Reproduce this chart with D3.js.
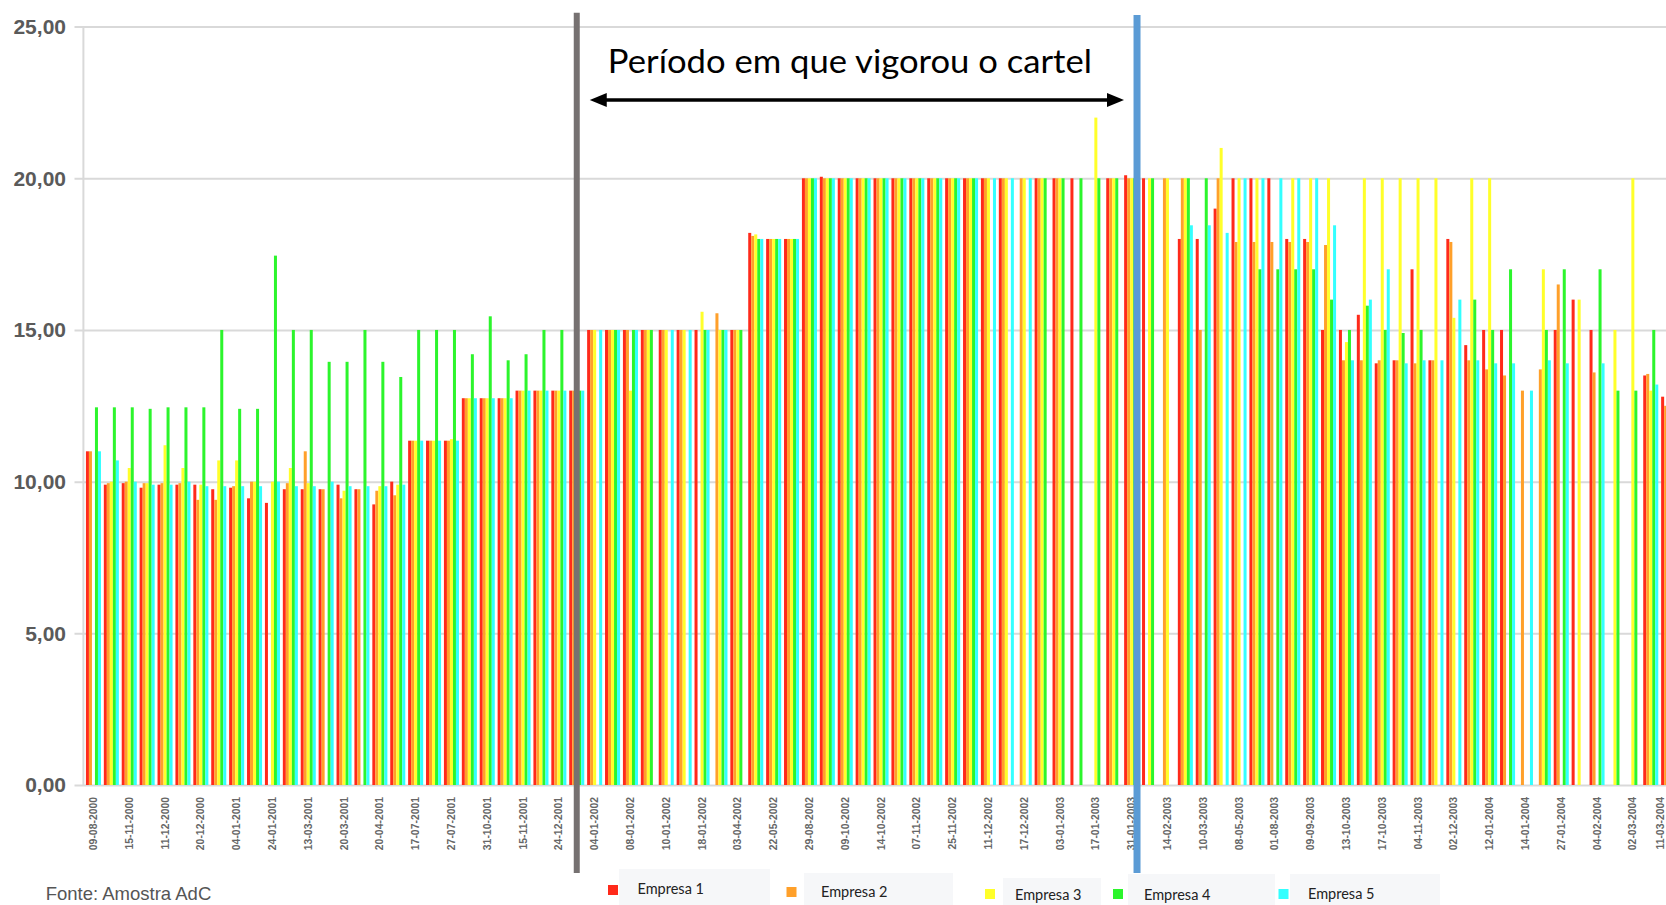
<!DOCTYPE html>
<html>
<head>
<meta charset="utf-8">
<script src="https://cdnjs.cloudflare.com/ajax/libs/d3/7.8.5/d3.min.js"></script>
<style>
  html, body { margin: 0; padding: 0; background: #fff; overflow: hidden; }
  svg { display: block; }
</style>
</head>
<body>
<svg width="1666" height="905"></svg>
<script>
// tick labels (one every second group)
const tickLabels = [
  '09-08-2000', '15-11-2000', '11-12-2000', '20-12-2000', '04-01-2001', '24-01-2001',
  '13-03-2001', '20-03-2001', '20-04-2001', '17-07-2001', '27-07-2001', '31-10-2001',
  '15-11-2001', '24-12-2001', '04-01-2002', '08-01-2002', '10-01-2002', '18-01-2002',
  '03-04-2002', '22-05-2002', '29-08-2002', '09-10-2002', '14-10-2002', '07-11-2002',
  '25-11-2002', '11-12-2002', '17-12-2002', '03-01-2003', '17-01-2003', '31-01-2003',
  '14-02-2003', '10-03-2003', '08-05-2003', '01-08-2003', '09-09-2003', '13-10-2003',
  '17-10-2003', '04-11-2003', '02-12-2003', '12-01-2004', '14-01-2004', '27-01-2004',
  '04-02-2004', '02-03-2004', '11-03-2004'
];

const seriesNames = ['Empresa 1', 'Empresa 2', 'Empresa 3', 'Empresa 4', 'Empresa 5'];
const seriesColors = ['#ff2a1a', '#ffa02a', '#ffff2a', '#2cf52c', '#33ffff'];

// price per group (0 = no observation)
const empresa1 = [
  11.0, 9.9, 9.95, 9.8, 9.9, 9.9, 9.9, 9.75, 9.8, 9.45,
  9.3, 9.75, 9.75, 9.75, 9.9, 9.75, 9.25, 10.0, 11.35, 11.35,
  11.35, 12.75, 12.75, 12.75, 13.0, 13.0, 13.0, 13.0, 15.0, 15.0,
  15.0, 15.0, 15.0, 15.0, 15.0, 0, 15.0, 18.2, 18.0, 18.0,
  20.0, 20.05, 20.0, 20.0, 20.0, 20.0, 20.0, 20.0, 20.0, 20.0,
  20.0, 20.0, 0, 20.0, 20.0, 20.0, 0, 20.0, 20.1, 20.0,
  0, 18.0, 18.0, 19.0, 20.0, 20.0, 20.0, 18.0, 18.0, 15.0,
  15.0, 15.5, 13.9, 14.0, 17.0, 14.0, 18.0, 14.5, 15.0, 15.0,
  0, 0, 15.0, 16.0, 15.0, 0, 0, 13.5, 12.8, 13.0
];
const empresa2 = [
  11.0, 9.95, 10.0, 9.95, 9.95, 9.95, 9.4, 9.4, 9.85, 10.0,
  0, 9.95, 11.0, 9.75, 9.45, 9.75, 9.7, 9.55, 11.35, 11.35,
  11.35, 12.75, 12.75, 12.75, 13.0, 13.0, 13.0, 13.0, 15.0, 15.0,
  15.0, 15.0, 15.0, 15.0, 0, 15.55, 15.0, 18.1, 18.0, 18.0,
  20.0, 20.0, 20.0, 20.0, 20.0, 20.0, 20.0, 20.0, 20.0, 20.0,
  20.0, 20.0, 20.0, 20.0, 20.0, 0, 0, 20.0, 20.0, 0,
  20.0, 20.0, 15.0, 20.0, 17.9, 17.9, 17.9, 17.9, 17.9, 17.8,
  14.0, 14.0, 14.0, 14.0, 13.9, 14.0, 17.9, 14.0, 13.7, 13.5,
  13.0, 13.7, 16.5, 0, 13.6, 0, 0, 13.55, 12.5, 13.0
];
const empresa3 = [
  0, 10.0, 10.45, 9.95, 11.2, 10.45, 9.9, 10.7, 10.7, 10.0,
  10.0, 10.45, 9.95, 0, 9.7, 0, 9.85, 9.9, 11.35, 11.35,
  11.4, 12.75, 12.75, 12.75, 13.0, 13.0, 13.0, 13.0, 15.0, 15.0,
  13.0, 15.0, 15.0, 15.0, 15.6, 15.0, 15.0, 18.15, 18.0, 18.0,
  20.0, 20.0, 20.0, 20.0, 20.0, 20.0, 20.0, 20.0, 20.0, 20.0,
  20.0, 20.0, 20.0, 20.0, 20.0, 0, 22.0, 20.0, 20.0, 20.0,
  20.0, 20.0, 0, 21.0, 20.0, 20.0, 0, 20.0, 20.0, 20.0,
  14.6, 20.0, 20.0, 20.0, 20.0, 20.0, 15.4, 20.0, 20.0, 0,
  0, 17.0, 0, 16.0, 0, 15.0, 20.0, 13.0, 13.0, 13.0
];
const empresa4 = [
  12.45, 12.45, 12.45, 12.4, 12.45, 12.45, 12.45, 15.0, 12.4, 12.4,
  17.45, 15.0, 15.0, 13.95, 13.95, 15.0, 13.95, 13.45, 15.0, 15.0,
  15.0, 14.2, 15.45, 14.0, 14.2, 15.0, 15.0, 13.0, 0, 15.0,
  15.0, 15.0, 0, 0, 15.0, 15.0, 15.0, 18.0, 18.0, 18.0,
  20.0, 20.0, 20.0, 20.0, 20.0, 20.0, 20.0, 20.0, 20.0, 20.0,
  0, 0, 0, 20.0, 20.0, 20.0, 20.0, 20.0, 20.0, 20.0,
  0, 20.0, 20.0, 0, 0, 17.0, 17.0, 17.0, 17.0, 16.0,
  15.0, 15.8, 15.0, 14.9, 15.0, 0, 0, 16.0, 15.0, 17.0,
  0, 15.0, 17.0, 0, 17.0, 13.0, 13.0, 15.0, 13.0, 13.0
];
const empresa5 = [
  11.0, 10.7, 10.0, 9.9, 9.9, 10.0, 9.85, 9.85, 9.85, 9.85,
  10.0, 9.85, 9.85, 10.0, 9.85, 9.85, 9.85, 9.9, 11.35, 11.35,
  11.35, 12.75, 12.75, 12.75, 13.0, 13.0, 13.0, 13.0, 15.0, 15.0,
  15.0, 0, 15.0, 15.0, 15.0, 15.0, 0, 18.0, 18.0, 18.0,
  20.0, 20.0, 20.0, 20.0, 20.0, 20.0, 20.0, 20.0, 20.0, 20.0,
  20.0, 20.0, 20.0, 0, 0, 0, 0, 0, 20.0, 0,
  0, 18.45, 18.45, 18.2, 20.0, 20.0, 20.0, 20.0, 20.0, 18.45,
  14.0, 16.0, 17.0, 13.9, 14.0, 14.0, 16.0, 14.0, 13.9, 13.9,
  13.0, 14.0, 13.9, 0, 13.9, 0, 0, 13.2, 13.0, 13.0
];

const series = [empresa1, empresa2, empresa3, empresa4, empresa5];
const yTicks = [0, 5, 10, 15, 20, 25];

const svg = d3.select('svg');
const width = Number(svg.attr('width'));
const height = Number(svg.attr('height'));

// scales
const x0 = d3.scaleBand()
  .domain(d3.range(empresa1.length))
  .range([84.5, 84.5 + 17.9 * empresa1.length])
  .paddingInner(0.16)
  .paddingOuter(0.08);
const x1 = d3.scaleBand().domain(d3.range(series.length)).range([0, x0.bandwidth()]);
const y = d3.scaleLinear().domain([0, 25]).range([785, 26.6]);

// gridlines + y labels
const yAxis = svg.append('g')
  .attr('transform', 'translate(74.5,0)')
  .call(d3.axisLeft(y).tickValues(yTicks)
    .tickSize(-(width - 74.5))
    .tickPadding(8.5)
    .tickFormat(d => d.toFixed(2).replace('.', ',')));
yAxis.select('.domain').remove();
yAxis.selectAll('line').attr('stroke', '#d9d9d9').attr('stroke-width', 2);
yAxis.selectAll('text')
  .attr('fill', '#5a5a5a')
  .style('font-family', 'Liberation Sans, Arial, sans-serif')
  .style('font-size', '21px')
  .style('font-weight', 'bold');

// vertical axis line
svg.append('line')
  .attr('x1', 83.4).attr('x2', 83.4)
  .attr('y1', y(25)).attr('y2', y(0))
  .attr('stroke', '#d9d9d9').attr('stroke-width', 2);

// bars
const groups = svg.append('g').selectAll('g')
  .data(d3.range(empresa1.length))
  .join('g')
  .attr('transform', i => `translate(${x0(i)},0)`);

groups.selectAll('rect')
  .data(i => series.map((s, k) => ({k, v: s[i]})))
  .join('rect')
  .attr('x', d => x1(d.k))
  .attr('width', x1.bandwidth())
  .attr('y', d => y(d.v))
  .attr('height', d => y(0) - y(d.v))
  .attr('fill', d => seriesColors[d.k]);

// x labels
const xAxis = svg.append('g')
  .attr('transform', `translate(0,${y(0)})`)
  .call(d3.axisBottom(x0)
    .tickValues(d3.range(0, empresa1.length, 2))
    .tickFormat(i => tickLabels[i / 2])
    .tickSize(0));
xAxis.select('.domain').remove();
xAxis.selectAll('text')
  .attr('transform', 'rotate(-90)')
  .attr('text-anchor', 'end')
  .attr('x', -12)
  .attr('y', 0)
  .attr('dy', '0.35em')
  .attr('fill', '#666')
  .style('font-family', 'Liberation Sans, Arial, sans-serif')
  .style('font-size', '10.4px')
  .style('font-weight', 'bold');
// keep the last label inside the page edge
xAxis.selectAll('.tick').filter(i => x0(i) + x0.bandwidth() / 2 > width - 8)
  .select('text').attr('dy', '-0.45em');

// period markers
const startX = x0(27) + x0.bandwidth() / 2;
const endX = x0(58) + x0.step() * 0.72;

svg.append('line')
  .attr('x1', startX).attr('x2', startX)
  .attr('y1', 12.7).attr('y2', 873)
  .attr('stroke', '#767171').attr('stroke-width', 6);
svg.append('line')
  .attr('x1', endX).attr('x2', endX)
  .attr('y1', 15).attr('y2', 873)
  .attr('stroke', '#5b9bd5').attr('stroke-width', 7);

// double arrow
const ay = 100;
const la = startX + 13;
const ra = endX - 13;
svg.append('line')
  .attr('x1', la + 10).attr('x2', ra - 10)
  .attr('y1', ay).attr('y2', ay)
  .attr('stroke', '#000').attr('stroke-width', 3.5);
svg.append('path')
  .attr('d', `M${la},${ay} L${la + 17},${ay - 7} L${la + 17},${ay + 7} Z`)
  .attr('fill', '#000');
svg.append('path')
  .attr('d', `M${ra},${ay} L${ra - 17},${ay - 7} L${ra - 17},${ay + 7} Z`)
  .attr('fill', '#000');

svg.append('text')
  .attr('x', (startX + endX) / 2 - 7)
  .attr('y', 73)
  .attr('text-anchor', 'middle')
  .attr('textLength', 484)
  .attr('lengthAdjust', 'spacingAndGlyphs')
  .style('font-family', 'Lato, Open Sans, sans-serif')
  .style('font-size', '32px')
  .attr('fill', '#000')
  .text('Período em que vigorou o cartel');

// legend
const legendLayout = [
  {sx: 613, sy: 890, tx: 637.5, ty: 894, bx0: 619, bx1: 770, by: 869},
  {sx: 791.5, sy: 892, tx: 821, ty: 897, bx0: 804, bx1: 953, by: 873},
  {sx: 990, sy: 894, tx: 1015, ty: 900, bx0: 1003, bx1: 1101, by: 878},
  {sx: 1118, sy: 894, tx: 1144, ty: 900, bx0: 1128, bx1: 1275, by: 874},
  {sx: 1283.5, sy: 894, tx: 1308, ty: 899, bx0: 1290, bx1: 1440, by: 874}
];
const legend = svg.append('g').selectAll('g')
  .data(seriesNames)
  .join('g');
legend.append('rect')
  .attr('x', (d, i) => legendLayout[i].bx0)
  .attr('y', (d, i) => legendLayout[i].by)
  .attr('width', (d, i) => legendLayout[i].bx1 - legendLayout[i].bx0)
  .attr('height', (d, i) => height - legendLayout[i].by)
  .attr('fill', '#f6f7f9');
legend.append('rect')
  .attr('x', (d, i) => legendLayout[i].sx - 5)
  .attr('y', (d, i) => legendLayout[i].sy - 5)
  .attr('width', 10).attr('height', 10)
  .attr('fill', (d, i) => seriesColors[i]);
legend.append('text')
  .attr('x', (d, i) => legendLayout[i].tx)
  .attr('y', (d, i) => legendLayout[i].ty)
  .style('font-family', 'Lato, Open Sans, sans-serif')
  .style('font-size', '14.5px')
  .attr('fill', '#222')
  .text(d => d);

// source note
svg.append('text')
  .attr('x', 45.7)
  .attr('y', 900)
  .style('font-family', 'Liberation Sans, Arial, sans-serif')
  .style('font-size', '18.5px')
  .attr('fill', '#555')
  .text('Fonte: Amostra AdC');
</script>
</body>
</html>
